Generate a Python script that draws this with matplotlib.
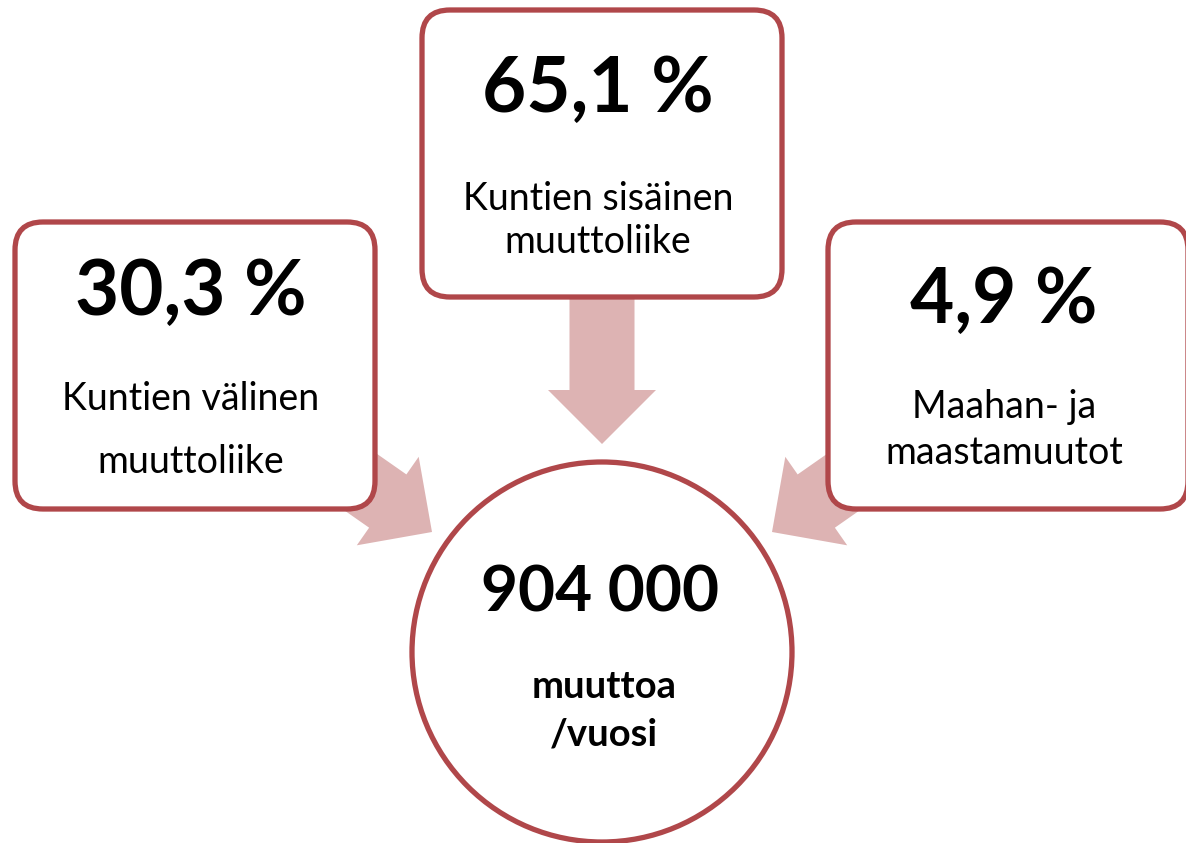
import matplotlib
matplotlib.use('Agg')
import matplotlib.pyplot as plt
from matplotlib.patches import FancyBboxPatch, Circle, FancyArrow

# shares of all moves
shares = ['30,3 %', '65,1 %', '4,9 %']
labels = [['Kuntien välinen', 'muuttoliike'],
          ['Kuntien sisäinen', 'muuttoliike'],
          ['Maahan- ja', 'maastamuutot']]
total = '904 000'
total_unit = ['muuttoa', '/vuosi']

EDGE = '#B0474A'
ARROW = '#DDB3B3'
FONT = 'Lato'

fig = plt.figure(figsize=(11.86, 8.43), dpi=100)
ax = fig.add_axes([0, 0, 1, 1])
ax.set_xlim(0, 1186)
ax.set_ylim(843, 0)
ax.set_aspect('equal')
ax.axis('off')

# boxes: left x, top y, percent baseline, label baselines
boxes = [
  (15, 222, 315, [410, 473]),
  (422, 10, 112, [210, 253]),
  (828, 222, 323, [418, 464]),
]
box_w = 360
box_h = 287

# arrows (start, tip), all the same shape
arrows = [
  ((309, 446), (432, 532)),
  ((602, 250), (602, 444)),
  ((895, 446), (772, 532)),
]
for (x0, y0), (x1, y1) in arrows:
  ax.add_patch(FancyArrow(x0, y0, x1 - x0, y1 - y0, width=65, head_width=108,
                          head_length=54, length_includes_head=True,
                          color=ARROW, lw=0, zorder=1))

for i, (bx, by, py, lys) in enumerate(boxes):
  ax.add_patch(FancyBboxPatch((bx + 28, by + 28), box_w - 56, box_h - 56,
                              boxstyle='round,pad=28', fc='white', ec=EDGE,
                              lw=3.8, zorder=2))
  cx = bx + box_w / 2 - 4
  ax.text(cx, py, shares[i], ha='center', va='baseline', fontsize=55,
          fontweight='bold', family=FONT, zorder=3)
  for line, ly in zip(labels[i], lys):
    ax.text(cx, ly, line, ha='center', va='baseline', fontsize=27,
            family=FONT, zorder=3)

ax.add_patch(Circle((602, 652), 190, fc='white', ec=EDGE, lw=3.8, zorder=2))
ax.text(600, 612, total, ha='center', va='baseline', fontsize=46,
        fontweight='bold', family=FONT, zorder=3)
for line, ly in zip(total_unit, [698, 745]):
  ax.text(604, ly, line, ha='center', va='baseline', fontsize=27.5,
          fontweight='bold', family=FONT, zorder=3)

fig.savefig('out.png', dpi=100, facecolor='white')
